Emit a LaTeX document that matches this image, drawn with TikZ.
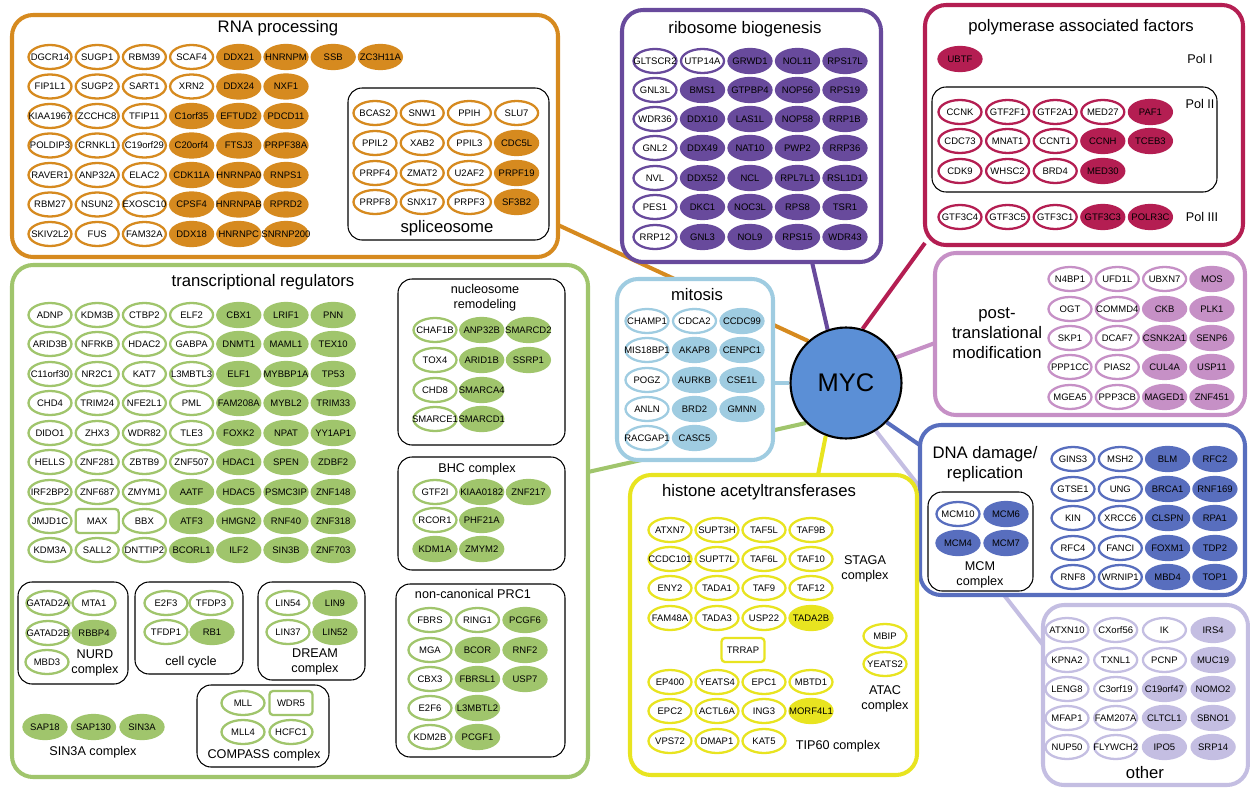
\documentclass[tikz,border=0pt]{standalone}
\usepackage{fontspec}
\setmainfont{Liberation Sans}
\usetikzlibrary{shapes.geometric}
\definecolor{rnaC}{HTML}{D68A1F}
\definecolor{riboC}{HTML}{684A9C}
\definecolor{polC}{HTML}{B41E52}
\definecolor{trC}{HTML}{A0C56C}
\definecolor{mitC}{HTML}{9FCCE1}
\definecolor{mycC}{HTML}{5B8FD6}
\definecolor{ptmC}{HTML}{C690C6}
\definecolor{dnaC}{HTML}{586EBE}
\definecolor{hatC}{HTML}{E8E420}
\definecolor{othC}{HTML}{C4BEE2}
\pgfdeclarelayer{bg}
\pgfsetlayers{bg,main}
\newcommand{\genefont}{\fontsize{5.4}{6}\selectfont}
\tikzset{
  grpbox/.style = {draw=#1, line width=2.3pt, fill=white, rounded corners=12pt},
  subbox/.style = {draw=black, line width=0.6pt, rounded corners=8pt},
  geneo/.style = {ellipse, draw=#1, line width=1.3pt, fill=white,
    minimum width=0.86cm, minimum height=0.48cm, inner sep=0pt, font=\genefont},
  genef/.style = {geneo=#1, fill=#1},
  generect/.style = {rectangle, rounded corners=2pt, draw=#1, line width=1.3pt,
    fill=white, minimum width=0.86cm, minimum height=0.48cm, inner sep=0pt,
    font=\genefont},
  grptitle/.style = {font=\fontsize{9.5}{11.3}\selectfont, align=center},
  sublabel/.style = {font=\fontsize{7.2}{8.6}\selectfont, align=center},
  mycnode/.style = {circle, draw=black, line width=1.2pt, fill=mycC,
    minimum size=2.22cm, inner sep=0pt, font=\fontsize{14.5}{16}\selectfont},
  conn/.style = {draw=#1, line width=2.3pt},
}
% color, x0, dx, y, number of open ellipses, genes
\newcommand{\generow}[6]{%
  \foreach \g [count=\i from 0] in {#6}{%
    \ifnum\i<#5\relax
      \node[geneo=#1] (\g) at ({#2+#3*\i},#4) {\makebox[0pt]{\g}};
    \else
      \node[genef=#1] (\g) at ({#2+#3*\i},#4) {\makebox[0pt]{\g}};
    \fi}}

\begin{document}
\begin{tikzpicture}[x=0.02cm, y=-0.02cm]
\useasboundingbox (0,0) rectangle (1250,794);

% RNA processing
\draw[grpbox=rnaC] (12,15) rectangle (558,257);
\node[grptitle] (rnaT) at (278,28) {RNA processing};
\generow{rnaC}{50}{47.2}{57}{4}{DGCR14,SUGP1,RBM39,SCAF4,DDX21,HNRNPM,SSB,ZC3H11A}
\generow{rnaC}{50}{47.2}{86.5}{4}{FIP1L1,SUGP2,SART1,XRN2,DDX24,NXF1}
\generow{rnaC}{50}{47.2}{116}{3}{KIAA1967,ZCCHC8,TFIP11,C1orf35,EFTUD2,PDCD11}
\generow{rnaC}{50}{47.2}{145.5}{3}{POLDIP3,CRNKL1,C19orf29,C20orf4,FTSJ3,PRPF38A}
\generow{rnaC}{50}{47.2}{175}{3}{RAVER1,ANP32A,ELAC2,CDK11A,HNRNPA0,RNPS1}
\generow{rnaC}{50}{47.2}{204.5}{3}{RBM27,NSUN2,EXOSC10,CPSF4,HNRNPAB,RPRD2}
\generow{rnaC}{50}{47.2}{234}{3}{SKIV2L2,FUS,FAM32A,DDX18,HNRNPC,SNRNP200}
\draw[subbox] (348,88) rectangle (549,240);
\generow{rnaC}{375}{47.2}{113}{4}{BCAS2,SNW1,PPIH,SLU7}
\generow{rnaC}{375}{47.2}{143}{3}{PPIL2,XAB2,PPIL3,CDC5L}
\generow{rnaC}{375}{47.2}{173}{3}{PRPF4,ZMAT2,U2AF2,PRPF19}
\generow{rnaC}{375}{47.2}{202}{3}{PRPF8,SNX17,PRPF3,SF3B2}
\node[grptitle] (spliceT) at (447,228) {spliceosome};

% ribosome biogenesis
\draw[grpbox=riboC] (622,10) rectangle (881,262);
\node[grptitle] (riboT) at (745,29) {ribosome biogenesis};
\generow{riboC}{655}{47.5}{61}{2}{GLTSCR2,UTP14A,GRWD1,NOL11,RPS17L}
\generow{riboC}{655}{47.5}{90}{1}{GNL3L,BMS1,GTPBP4,NOP56,RPS19}
\generow{riboC}{655}{47.5}{119}{1}{WDR36,DDX10,LAS1L,NOP58,RRP1B}
\generow{riboC}{655}{47.5}{148}{1}{GNL2,DDX49,NAT10,PWP2,RRP36}
\generow{riboC}{655}{47.5}{178}{1}{NVL,DDX52,NCL,RPL7L1,RSL1D1}
\generow{riboC}{655}{47.5}{207}{1}{PES1,DKC1,NOC3L,RPS8,TSR1}
\generow{riboC}{655}{47.5}{237}{1}{RRP12,GNL3,NOL9,RPS15,WDR43}

% polymerase associated factors
\draw[grpbox=polC] (925,5) rectangle (1243,245);
\node[grptitle] (polT) at (1081,27) {polymerase associated factors};
\generow{polC}{960}{47.6}{59}{0}{UBTF}
\node[sublabel] (pol1) at (1200,59) {Pol I};
\draw[subbox] (932,87) rectangle (1217,192);
\node[sublabel] (pol2) at (1200,104) {Pol II};
\generow{polC}{960}{47.6}{112}{4}{CCNK,GTF2F1,GTF2A1,MED27,PAF1}
\generow{polC}{960}{47.6}{141}{3}{CDC73,MNAT1,CCNT1,CCNH,TCEB3}
\generow{polC}{960}{47.6}{171}{3}{CDK9,WHSC2,BRD4,MED30}
\generow{polC}{960}{47.6}{217}{3}{GTF3C4,GTF3C5,GTF3C1,GTF3C3,POLR3C}
\node[sublabel] (pol3) at (1202,217) {Pol III};

% transcriptional regulators
\draw[grpbox=trC] (12,265) rectangle (588,777);
\node[grptitle] (trT) at (263,282) {transcriptional regulators};
\generow{trC}{50}{47.2}{315}{4}{ADNP,KDM3B,CTBP2,ELF2,CBX1,LRIF1,PNN}
\generow{trC}{50}{47.2}{344}{4}{ARID3B,NFRKB,HDAC2,GABPA,DNMT1,MAML1,TEX10}
\generow{trC}{50}{47.2}{374}{4}{C11orf30,NR2C1,KAT7,L3MBTL3,ELF1,MYBBP1A,TP53}
\generow{trC}{50}{47.2}{403}{4}{CHD4,TRIM24,NFE2L1,PML,FAM208A,MYBL2,TRIM33}
\generow{trC}{50}{47.2}{433}{4}{DIDO1,ZHX3,WDR82,TLE3,FOXK2,NPAT,YY1AP1}
\generow{trC}{50}{47.2}{462}{4}{HELLS,ZNF281,ZBTB9,ZNF507,HDAC1,SPEN,ZDBF2}
\generow{trC}{50}{47.2}{492}{3}{IRF2BP2,ZNF687,ZMYM1,AATF,HDAC5,PSMC3IP,ZNF148}
\generow{trC}{50}{47.2}{521}{1}{JMJD1C}
\node[generect=trC] (MAX) at (97.2,521) {MAX};
\generow{trC}{144.4}{47.2}{521}{1}{BBX,ATF3,HMGN2,RNF40,ZNF318}
\generow{trC}{50}{47.2}{550}{3}{KDM3A,SALL2,DNTTIP2,BCORL1,ILF2,SIN3B,ZNF703}

\draw[subbox] (398,279) rectangle (565,445);
\node[sublabel] (nucT) at (485,298) {nucleosome\\remodeling};
\generow{trC}{435}{46.7}{330}{1}{CHAF1B,ANP32B,SMARCD2}
\generow{trC}{435}{46.7}{360}{1}{TOX4,ARID1B,SSRP1}
\generow{trC}{435}{46.7}{390}{1}{CHD8,SMARCA4}
\generow{trC}{435}{46.7}{419}{1}{SMARCE1,SMARCD1}

\draw[subbox] (398,457) rectangle (565,570);
\node[sublabel] (bhcT) at (477,469) {BHC complex};
\generow{trC}{435}{46.7}{492}{1}{GTF2I,KIAA0182,ZNF217}
\generow{trC}{435}{46.7}{520}{1}{RCOR1,PHF21A}
\generow{trC}{435}{46.7}{549}{0}{KDM1A,ZMYM2}

\draw[subbox] (396,584) rectangle (565,757);
\node[sublabel] (prcT) at (473,594) {non-canonical PRC1};
\generow{trC}{430}{47.5}{620}{2}{FBRS,RING1,PCGF6}
\generow{trC}{430}{47.5}{650}{1}{MGA,BCOR,RNF2}
\generow{trC}{430}{47.5}{679}{1}{CBX3,FBRSL1,USP7}
\generow{trC}{430}{47.5}{708}{1}{E2F6,L3MBTL2}
\generow{trC}{430}{47.5}{737}{1}{KDM2B,PCGF1}

\draw[subbox] (18,582) rectangle (128,684);
\generow{trC}{48}{46}{603}{2}{GATAD2A,MTA1}
\generow{trC}{48}{46}{633}{1}{GATAD2B,RBBP4}
\generow{trC}{47}{46}{662}{1}{MBD3}
\node[sublabel] (nurdT) at (95,663) {NURD\\complex};

\draw[subbox] (135,582) rectangle (243,674);
\generow{trC}{166}{45}{603}{2}{E2F3,TFDP3}
\generow{trC}{166}{46}{632}{1}{TFDP1,RB1}
\node[sublabel] (ccT) at (191,662) {cell cycle};

\draw[subbox] (258,582) rectangle (365,680);
\generow{trC}{288}{47}{603}{1}{LIN54,LIN9}
\generow{trC}{288}{47}{632}{1}{LIN37,LIN52}
\node[sublabel] (dreamT) at (315,662) {DREAM\\complex};

\draw[subbox] (197,685) rectangle (329,767);
\generow{trC}{243}{48}{703}{1}{MLL}
\node[generect=trC] (WDR5) at (291,703) {WDR5};
\generow{trC}{243}{48}{732}{2}{MLL4,HCFC1}
\node[sublabel] (compT) at (264,755) {COMPASS complex};

\generow{trC}{45}{48.5}{727}{0}{SAP18,SAP130,SIN3A}
\node[sublabel] (sinT) at (93,752) {SIN3A complex};

% mitosis
\draw[grpbox=mitC] (617,279) rectangle (773,460);
\node[grptitle] (mitT) at (697,295) {mitosis};
\generow{mitC}{647}{47.5}{321}{2}{CHAMP1,CDCA2,CCDC99}
\generow{mitC}{647}{47.5}{350}{1}{MIS18BP1,AKAP8,CENPC1}
\generow{mitC}{647}{47.5}{380}{1}{POGZ,AURKB,CSE1L}
\generow{mitC}{647}{47.5}{409}{1}{ANLN,BRD2,GMNN}
\generow{mitC}{647}{47.5}{438}{1}{RACGAP1,CASC5}

% post-translational modification
\draw[grpbox=ptmC] (935,253) rectangle (1245,415);
\node[grptitle] (ptmT) at (997,333) {post-\\translational\\modification};
\generow{ptmC}{1070}{47.3}{279}{3}{N4BP1,UFD1L,UBXN7,MOS}
\generow{ptmC}{1070}{47.3}{309}{2}{OGT,COMMD4,CKB,PLK1}
\generow{ptmC}{1070}{47.3}{338}{2}{SKP1,DCAF7,CSNK2A1,SENP6}
\generow{ptmC}{1070}{47.3}{367}{2}{PPP1CC,PIAS2,CUL4A,USP11}
\generow{ptmC}{1070}{47.3}{397}{2}{MGEA5,PPP3CB,MAGED1,ZNF451}

% DNA damage / replication
\draw[grpbox=dnaC] (920,425) rectangle (1245,595);
\node[grptitle] (dnaT) at (985,464) {DNA damage/\\replication};
\generow{dnaC}{1073}{47.3}{459}{2}{GINS3,MSH2,BLM,RFC2}
\generow{dnaC}{1073}{47.3}{489}{2}{GTSE1,UNG,BRCA1,RNF169}
\generow{dnaC}{1073}{47.3}{518}{2}{KIN,XRCC6,CLSPN,RPA1}
\generow{dnaC}{1073}{47.3}{548}{2}{RFC4,FANCI,FOXM1,TDP2}
\generow{dnaC}{1073}{47.3}{577}{2}{RNF8,WRNIP1,MBD4,TOP1}
\draw[subbox] (928,492) rectangle (1033,591);
\generow{dnaC}{958}{48}{514}{1}{MCM10,MCM6}
\generow{dnaC}{958}{48}{543}{0}{MCM4,MCM7}
\node[sublabel] (mcmT) at (980,575) {MCM\\complex};

% histone acetyltransferases
\draw[grpbox=hatC] (630,475) rectangle (917,775);
\node[grptitle] (hatT) at (759,492) {histone acetyltransferases};
\generow{hatC}{670}{47}{530}{4}{ATXN7,SUPT3H,TAF5L,TAF9B}
\generow{hatC}{670}{47}{559}{4}{CCDC101,SUPT7L,TAF6L,TAF10}
\generow{hatC}{670}{47}{588}{4}{ENY2,TADA1,TAF9,TAF12}
\generow{hatC}{670}{47}{618}{3}{FAM48A,TADA3,USP22,TADA2B}
\node[sublabel] (stagaT) at (865,569) {STAGA\\complex};
\node[generect=hatC] (TRRAP) at (743,650) {TRRAP};
\generow{hatC}{670}{47}{682}{4}{EP400,YEATS4,EPC1,MBTD1}
\generow{hatC}{670}{47}{711}{3}{EPC2,ACTL6A,ING3,MORF4L1}
\generow{hatC}{670}{47}{741}{3}{VPS72,DMAP1,KAT5}
\node[sublabel] (tipT) at (838,746) {TIP60 complex};
\generow{hatC}{885}{0}{636}{1}{MBIP}
\generow{hatC}{885}{0}{664}{1}{YEATS2}
\node[sublabel] (atacT) at (885,699) {ATAC\\complex};

% other
\draw[grpbox=othC] (1043,605) rectangle (1248,785);
\generow{othC}{1067}{48.7}{630}{3}{ATXN10,CXorf56,IK,IRS4}
\generow{othC}{1067}{48.7}{660}{3}{KPNA2,TXNL1,PCNP,MUC19}
\generow{othC}{1067}{48.7}{689}{2}{LENG8,C3orf19,C19orf47,NOMO2}
\generow{othC}{1067}{48.7}{718}{2}{MFAP1,FAM207A,CLTCL1,SBNO1}
\generow{othC}{1067}{48.7}{747}{2}{NUP50,FLYWCH2,IPO5,SRP14}
\node[grptitle] (othT) at (1145,773) {other};

% MYC and its links
\node[mycnode] (myc) at (846,383) {MYC};
\coordinate (rnaP) at (558,225);
\coordinate (riboP) at (812,262);
\coordinate (polP) at (925,243);
\coordinate (ptmP) at (935,343);
\coordinate (mitP) at (773,383);
\coordinate (trP) at (588,472);
\coordinate (hatP) at (818,475);
\coordinate (dnaP) at (924,448);
\coordinate (othP) at (1043,645);
\begin{pgfonlayer}{bg}
\draw[conn=rnaC] (rnaP) -- (myc.132);
\draw[conn=riboC] (riboP) -- (myc.109);
\draw[conn=polC] (polP) -- (myc.73);
\draw[conn=ptmC] (ptmP) -- (myc.27);
\draw[conn=mitC] (mitP) -- (myc.180);
\draw[conn=trC] (trP) -- (myc.225);
\draw[conn=hatC] (hatP) -- (myc.249);
\draw[conn=dnaC] (dnaP) -- (myc.316);
\draw[conn=othC] (othP) -- (myc.302);
\end{pgfonlayer}
\end{tikzpicture}
\end{document}
